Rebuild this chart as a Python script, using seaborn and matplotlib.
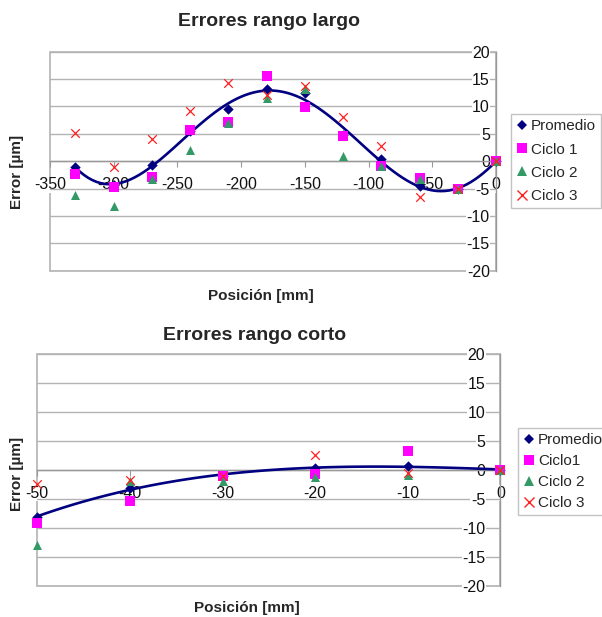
import warnings
import numpy as np
import pandas as pd
import matplotlib
matplotlib.use("Agg")
import matplotlib.pyplot as plt
from matplotlib.lines import Line2D
import seaborn as sns

warnings.filterwarnings("ignore")

# ---------------- data ----------------
pos_largo = [-330, -300, -270, -240, -210, -180, -150, -120, -90, -60, -30, 0]
promedio_largo = [-1.1, -4.4, -0.7, 5.6, 9.5, 13.2, 12.4, 4.7, 0.4, -4.5, -5.1, 0.0]
ciclo1_largo = [-2.4, -4.7, -2.9, 5.7, 7.1, 15.5, 9.9, 4.6, -0.9, -3.0, -5.1, 0.0]
ciclo2_largo = [-6.1, -8.1, -3.2, 2.0, 7.0, 11.6, 13.2, 1.0, -0.9, -3.3, -5.1, 0.0]
ciclo3_largo = [5.1, -1.0, 4.0, 9.1, 14.2, 12.1, 13.7, 8.1, 2.7, -6.6, -5.1, 0.0]

pos_corto = [-50, -40, -30, -20, -10, 0]
promedio_corto = [-8.1, -3.2, -1.0, 0.3, 0.7, 0.0]
ciclo1_corto = [-9.1, -5.4, -1.1, -0.7, 3.3, 0.0]
ciclo2_corto = [-12.9, -2.0, -1.9, -1.2, -0.9, 0.0]
ciclo3_corto = [-2.5, -1.8, -1.0, 2.6, -0.5, 0.0]

labels_largo = ["Promedio", "Ciclo 1", "Ciclo 2", "Ciclo 3"]
labels_corto = ["Promedio", "Ciclo1", "Ciclo 2", "Ciclo 3"]

title_largo = "Errores rango largo"
title_corto = "Errores rango corto"
xlabel = "Posición [mm]"
ylabel = "Error [µm]"

# ---------------- style ----------------
sns.set_style("white")
plt.rcParams["font.family"] = ["Liberation Sans", "DejaVu Sans"]
plt.rcParams["axes.unicode_minus"] = False

NAVY = "#000080"
MAGENTA = "#ff00ff"
GREEN = "#339966"
RED = "#ff2020"
GRID = "#b3b3b3"
AXIS = "#999999"

W, H = 602, 617
fig = plt.figure(figsize=(W / 100, H / 100), dpi=100)


def px_axes(l, r, t, b):
    return fig.add_axes([l / W, 1 - b / H, (r - l) / W, (b - t) / H])


def draw(ax, pos, prom, c1, c2, c3, labels, xlim, xstep, ytick_pad, order,
         title, title_xy, xl_xy, yl_xy, leg_anchor, leg_spacing):
    df = pd.DataFrame({"pos": pos, "prom": prom, "c1": c1, "c2": c2, "c3": c3})

    # polynomial trend line of the average
    sns.regplot(data=df, x="pos", y="prom", order=order, scatter=False, ci=None,
                truncate=True, ax=ax,
                line_kws=dict(color=NAVY, lw=1.9, zorder=3))
    sns.scatterplot(data=df, x="pos", y="prom", marker="D", color=NAVY, s=28,
                    linewidth=0, ax=ax, zorder=4, legend=False, clip_on=False)
    sns.scatterplot(data=df, x="pos", y="c1", marker="s", color=MAGENTA, s=42,
                    linewidth=0, ax=ax, zorder=5, legend=False, clip_on=False)
    sns.scatterplot(data=df, x="pos", y="c2", marker="^", color=GREEN, s=42,
                    linewidth=0, ax=ax, zorder=6, legend=False, clip_on=False)
    sns.scatterplot(data=df, x="pos", y="c3", marker="x", color=RED, s=38,
                    linewidth=0.9, ax=ax, zorder=7, legend=False, clip_on=False)

    ax.set_xlim(*xlim)
    ax.set_ylim(-20, 20)
    ax.set_xticks(np.arange(xlim[0], xlim[1] + 1, xstep))
    ax.set_yticks(np.arange(-20, 21, 5))

    # frame and axes through origin
    ax.patch.set_edgecolor(GRID)
    ax.patch.set_linewidth(1.2)
    for s in ("top", "right"):
        ax.spines[s].set_visible(False)
    ax.spines["left"].set_position(("data", 0))
    ax.spines["bottom"].set_position(("data", 0))
    for s in ("left", "bottom"):
        ax.spines[s].set_color(AXIS)
        ax.spines[s].set_linewidth(1.0)
        ax.spines[s].set_zorder(1)
    ax.set_axisbelow(True)
    ax.yaxis.grid(True, color=GRID, lw=1.0)
    ax.xaxis.grid(False)
    ax.tick_params(axis="x", direction="out", length=4, width=0.8, color=AXIS,
                   pad=7.5, labelsize=11.5, bottom=True)
    ax.tick_params(axis="y", direction="out", length=0, pad=ytick_pad,
                   labelsize=11.5, left=True)
    for lab in ax.get_xticklabels() + ax.get_yticklabels():
        lab.set_bbox(dict(facecolor="white", edgecolor="none", pad=0.3))
        lab.set_color("#111111")

    ax.set_xlabel(xlabel, fontsize=11, fontweight="bold")
    ax.set_ylabel(ylabel, fontsize=11, fontweight="bold")
    ax.xaxis.label.set_va("center")
    ax.yaxis.label.set_va("center")
    ax.xaxis.set_label_coords(*xl_xy)
    ax.yaxis.set_label_coords(*yl_xy)
    ax.set_title(title, fontsize=14, fontweight="bold", x=title_xy[0], y=title_xy[1],
                 va="center", pad=0)

    handles = [
        Line2D([], [], ls="none", marker="D", color=NAVY, markersize=5.5, mew=0),
        Line2D([], [], ls="none", marker="s", color=MAGENTA, markersize=6.5, mew=0),
        Line2D([], [], ls="none", marker="^", color=GREEN, markersize=6.5, mew=0),
        Line2D([], [], ls="none", marker="x", color=RED, markersize=6.5, mew=1.0),
    ]
    leg = fig.legend(handles, labels, loc="upper left", bbox_to_anchor=leg_anchor,
                     bbox_transform=fig.transFigure, fontsize=11, frameon=True,
                     fancybox=False, borderaxespad=0, borderpad=0.35,
                     handlelength=0.7, handletextpad=0.25, labelspacing=leg_spacing)
    leg.get_frame().set_edgecolor(GRID)
    leg.get_frame().set_linewidth(1.0)


# top chart
ax1 = px_axes(50, 496, 51.7, 270.7)
draw(ax1, pos_largo, promedio_largo, ciclo1_largo, ciclo2_largo, ciclo3_largo,
     labels_largo, (-350, 0), 50, 4.5, 6, title_largo,
     (0.491, 1.137), (0.472, -0.1155), (-0.074, 0.4507),
     (511 / W, 1 - 114 / H), 0.6)

# bottom chart
ax2 = px_axes(37.3, 500.5, 354, 585.7)
draw(ax2, pos_corto, promedio_corto, ciclo1_corto, ciclo2_corto, ciclo3_corto,
     labels_corto, (-50, 0), 10, 11, 3, title_corto,
     (0.469, 1.082), (0.453, -0.0962), (-0.0432, 0.482),
     (518 / W, 1 - 428 / H), 0.45)

fig.savefig("out.png", dpi=100, facecolor="white")
